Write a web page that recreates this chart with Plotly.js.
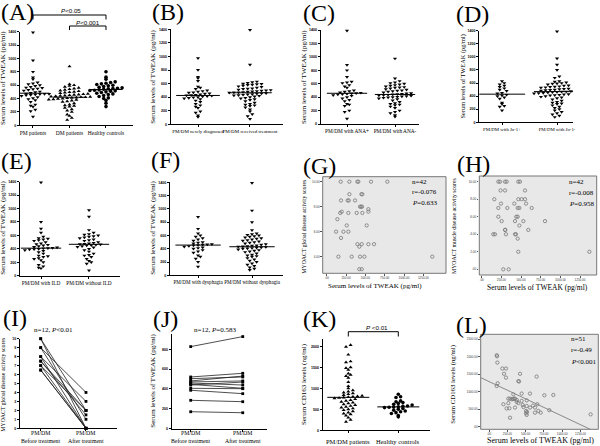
<!DOCTYPE html>
<html>
<head>
<meta charset="utf-8">
<script src="https://cdn.plot.ly/plotly-3.0.1.min.js"></script>
<style>body{margin:0;background:white}</style>
</head>
<body>
<div id="fig" style="width:600px;height:446px"></div>
<script>
// ---- data ----
// (A) TWEAK, pg/ml
var pmTweak = [1390, 970, 800, 715, 690, 640, 625, 615, 600, 590, 575, 565, 560, 550, 540, 530, 520, 505, 495, 485, 475, 470, 468, 465, 460, 455, 450, 440, 430, 420, 405, 390, 375, 350, 310, 295, 280, 235, 210, 130];
var dmTweak = [880, 615, 600, 590, 575, 560, 550, 540, 530, 520, 510, 500, 495, 490, 480, 470, 465, 460, 455, 450, 445, 440, 435, 430, 425, 420, 420, 415, 410, 405, 400, 395, 390, 385, 380, 370, 360, 350, 330, 310, 300, 290, 280, 260, 240, 220, 200, 160, 140, 110, 80];
var hcTweak = [800, 720, 690, 650, 640, 630, 620, 610, 600, 590, 580, 570, 560, 555, 550, 545, 540, 530, 525, 520, 515, 510, 500, 490, 480, 470, 460, 445, 430, 410, 400, 370, 330, 280];
// (B)
var newDiag = [975, 800, 700, 680, 640, 555, 540, 520, 500, 490, 480, 470, 465, 455, 450, 440, 435, 430, 425, 420, 415, 410, 400, 395, 390, 380, 370, 350, 330, 300, 280, 260, 240, 190, 170, 130, 110];
var treated = [1390, 880, 630, 620, 610, 600, 595, 590, 585, 580, 570, 560, 550, 540, 530, 525, 520, 510, 505, 500, 495, 490, 485, 480, 475, 470, 470, 465, 460, 455, 450, 445, 440, 435, 430, 425, 420, 410, 400, 390, 380, 370, 360, 340, 320, 300, 290, 280, 270, 250, 220, 190, 150, 120, 80];
// (C)
var anaPos = [1390, 880, 800, 700, 630, 620, 610, 580, 560, 540, 500, 490, 480, 470, 465, 460, 455, 450, 445, 440, 430, 420, 400, 380, 360, 340, 300, 290, 270, 200, 180, 80];
var anaNeg = [975, 680, 640, 620, 610, 600, 590, 580, 570, 560, 550, 545, 540, 530, 520, 510, 500, 495, 490, 480, 470, 460, 455, 450, 445, 440, 435, 430, 425, 420, 415, 410, 405, 400, 395, 390, 380, 370, 350, 330, 310, 300, 290, 280, 260, 240, 200, 180, 160, 130, 110];
// (D)
var joPos = [630, 600, 580, 560, 540, 520, 500, 480, 450, 440, 420, 410, 400, 380, 360, 300, 280, 250, 240, 180];
var joNeg = [1390, 975, 880, 800, 700, 680, 630, 620, 610, 600, 595, 590, 580, 570, 565, 560, 550, 545, 540, 535, 530, 520, 515, 510, 505, 500, 495, 490, 485, 480, 478, 475, 470, 468, 465, 460, 455, 450, 445, 440, 435, 430, 425, 420, 415, 410, 400, 390, 380, 370, 350, 330, 310, 300, 290, 280, 260, 240, 220, 200, 180, 160, 140, 120, 100, 80];
// (E)
var ildPos = [1390, 800, 700, 640, 580, 560, 550, 540, 530, 520, 500, 480, 470, 460, 450, 440, 430, 420, 415, 410, 405, 400, 395, 390, 380, 370, 350, 330, 300, 290, 280, 260, 250, 230, 200, 160, 140, 120, 110];
var ildNeg = [975, 880, 680, 640, 620, 610, 600, 590, 580, 570, 560, 540, 530, 520, 500, 490, 480, 475, 470, 465, 460, 455, 450, 440, 430, 420, 400, 380, 360, 330, 310, 300, 280, 250, 220, 200, 180, 80];
// (F)
var dysPos = [880, 700, 630, 600, 580, 560, 540, 520, 500, 490, 480, 470, 465, 460, 455, 450, 440, 430, 420, 410, 400, 380, 360, 340, 300, 280, 250, 200, 130];
var dysNeg = [1390, 975, 800, 680, 630, 620, 610, 600, 590, 580, 570, 560, 550, 540, 530, 520, 510, 500, 490, 480, 470, 460, 450, 445, 440, 435, 430, 425, 420, 415, 410, 405, 400, 390, 380, 370, 360, 350, 330, 310, 300, 290, 280, 260, 240, 220, 200, 180, 160, 140, 120, 100, 80];
// (G) TWEAK vs MYOACT global score
var gTweak = [181, 293, 397, 409, 573, 784, 293, 449, 460, 185, 271, 285, 366, 431, 444, 457, 539, 194, 539, 280, 388, 461, 175, 138, 259, 517, 121, 216, 280, 185, 397, 453, 539, 612, 422, 151, 323, 431, 487, 1366, 422, 453];
var gScore = [10, 10, 10, 10, 10, 10, 9, 9, 9, 8.5, 8.5, 8.5, 8.5, 8, 8, 8, 7.8, 7.6, 7.6, 7.5, 7.5, 7.5, 7.5, 7, 6.5, 6.5, 6, 6, 6, 5.5, 5, 5, 5, 5, 4.8, 4, 4, 4, 4, 4, 3, 3];
// (H) TWEAK vs MYOACT muscle score
var hTweak = [212, 233, 297, 318, 466, 487, 297, 551, 240, 161, 466, 508, 551, 246, 415, 564, 212, 326, 458, 479, 636, 212, 458, 440, 254, 424, 530, 805, 479, 297, 593, 300, 148, 169, 309, 424, 436, 458, 466, 1369, 275, 343];
var hScore = [10, 10, 10, 10, 10, 10, 9, 9, 9, 8, 8, 8, 8, 7.5, 7.5, 7.5, 7, 7, 7, 7, 7, 6, 6, 6, 5.5, 5.5, 5.5, 5.5, 5, 4.5, 4.5, 4.5, 4, 4, 4, 4, 4, 3.5, 2, 2, 0, 0];
// (I) MYOACT global score, paired
var iBefore = [10, 10, 9, 9, 8, 8, 7.5, 7.5, 7, 7, 6.5, 6.5];
var iAfter = [2, 0, 4, 1, 3, 0, 2, 1.5, 0, 2, 0, 0];
// (J) TWEAK, paired
var jBefore = [827, 521, 504, 481, 471, 460, 447, 440, 407, 387, 286, 171];
var jAfter = [928, 558, 521, 530, 481, 440, 407, 470, 403, 353, 272, 161];
// (K) CD163, ng/ml
var cdPat = [2030, 1990, 1800, 1640, 1620, 1500, 1480, 1440, 1350, 1320, 1290, 1250, 1150, 1050, 1000, 950, 920, 900, 880, 860, 840, 820, 810, 800, 790, 780, 770, 760, 740, 720, 700, 680, 660, 640, 620, 600, 580, 560, 540, 520, 500, 480, 450, 420, 400, 380, 350, 300, 250, 200];
var cdHc = [860, 800, 780, 700, 680, 660, 640, 620, 600, 580, 570, 560, 555, 550, 540, 520, 500, 480, 460, 440, 420, 400, 350, 320];
// (L) TWEAK vs CD163
var lTweak = [105, 110, 114, 182, 232, 205, 232, 424, 651, 401, 410, 118, 105, 332, 446, 560, 879, 756, 287, 310, 342, 355, 264, 196, 264, 401, 378, 446, 460, 515, 355, 278, 515, 560, 628, 660, 674, 706, 824, 628, 506, 506, 515, 287, 1389, 325, 240, 470, 600, 380, 520];
var lCd163 = [2040, 2010, 1830, 1660, 1660, 1510, 1400, 1510, 1430, 1300, 1290, 1240, 1160, 925, 945, 945, 905, 895, 800, 780, 800, 800, 800, 640, 670, 670, 705, 735, 620, 750, 545, 525, 590, 545, 545, 640, 450, 400, 470, 400, 450, 380, 335, 255, 350, 790, 520, 560, 600, 760, 420];

var tweakTicks = [0, 200, 400, 600, 800, 1000, 1200, 1400];
var tweakTitle = 'Serum levels of TWEAK (pg/ml)';

// ---- helpers ----
var W = 600, H = 446;
var traces = [];
var layout = {
  width: W, height: H, margin: {l: 0, r: 0, t: 0, b: 0},
  showlegend: false, paper_bgcolor: 'white', plot_bgcolor: 'rgba(0,0,0,0)',
  font: {family: 'Liberation Serif', color: 'black'},
  annotations: [], shapes: []
};

function sfx(n) { return n === 1 ? '' : String(n); }

function setAxes(n, g, xopt, yopt) {
  var base = {showline: true, linecolor: 'black', linewidth: 1, ticks: 'outside', ticklen: 2,
    tickwidth: 1, tickcolor: 'black', showgrid: false, zeroline: false, fixedrange: true, tickangle: 0};
  layout['xaxis' + sfx(n)] = Object.assign({}, base, {domain: [g.x0 / W, g.x1 / W], anchor: 'y' + sfx(n), range: g.xr}, xopt);
  layout['yaxis' + sfx(n)] = Object.assign({}, base, {domain: [1 - g.yb / H, 1 - g.yt / H], anchor: 'x' + sfx(n), range: g.yr}, yopt);
}

function note(text, px, py, opt) {
  var a = Object.assign({xref: 'paper', yref: 'paper', x: px / W, y: 1 - py / H, text: text,
    showarrow: false, xanchor: 'center', yanchor: 'middle', borderpad: 0}, opt || {});
  a.font = Object.assign({family: 'Liberation Serif', size: 7, color: 'black'}, (opt && opt.font) || {});
  layout.annotations.push(a);
}

function median(a) {
  var s = a.slice().sort(function (p, q) { return p - q; });
  var m = Math.floor(s.length / 2);
  return s.length % 2 ? s[m] : (s[m - 1] + s[m]) / 2;
}

// spread points of one column sideways (rows of similar value)
function swarm(vals, center, bin, step) {
  var s = vals.slice().sort(function (p, q) { return p - q; });
  var rows = {}, xs = [], ys = [];
  s.forEach(function (v) { var k = Math.round(v / bin); (rows[k] = rows[k] || []).push(v); });
  Object.keys(rows).forEach(function (k) {
    var r = rows[k];
    r.forEach(function (v, j) { xs.push(center + (j - (r.length - 1) / 2) * step); ys.push(v); });
  });
  return {x: xs, y: ys};
}

var numFont = {family: 'Liberation Sans', size: 3.6, weight: 'bold', color: 'black'};

function dotPanel(n, g, groups, names, yticks) {
  setAxes(n, g, {tickvals: names.map(function (_, i) { return i; }), ticktext: names,
      tickfont: {family: 'Liberation Serif', size: g.cs || 5.5, color: 'black'}},
    {tickvals: yticks, tickfont: numFont});
  var catPx = (g.x1 - g.x0) / (g.xr[1] - g.xr[0]);
  var valPx = (g.yb - g.yt) / (g.yr[1] - g.yr[0]);
  groups.forEach(function (grp, i) {
    var s = swarm(grp.vals, i, 3 / valPx, 4.6 / catPx);
    traces.push({type: 'scatter', mode: 'markers', x: s.x, y: s.y, xaxis: 'x' + sfx(n), yaxis: 'y' + sfx(n),
      cliponaxis: false, hoverinfo: 'skip', marker: {symbol: grp.sym, size: 3.6, color: 'black'}});
    var m = median(grp.vals), hw = g.mw || 0.42;
    traces.push({type: 'scatter', mode: 'lines', x: [i - hw, i + hw], y: [m, m], xaxis: 'x' + sfx(n), yaxis: 'y' + sfx(n),
      hoverinfo: 'skip', line: {color: 'black', width: 1}});
  });
}

function catNotes(n, names, py, size) {
  names.forEach(function (lines, i) {
    lines.forEach(function (t, k) {
      layout.annotations.push({xref: 'x' + sfx(n), yref: 'paper', x: i, y: 1 - py[k] / H, text: t, showarrow: false,
        xanchor: 'center', yanchor: 'middle', borderpad: 0, font: {family: 'Liberation Serif', size: size, color: 'black'}});
    });
  });
  layout['xaxis' + sfx(n)].showticklabels = false;
}

function spssPanel(n, g, xs, ys, xticks, xtext, yticks, ytext) {
  var sf = {family: 'Liberation Sans', size: 3, color: '#333'};
  setAxes(n, g, {tickvals: xticks, ticktext: xtext, tickfont: sf, showline: false, tickcolor: '#555', ticklen: 1.5},
    {tickvals: yticks, ticktext: ytext, tickfont: sf, showline: false, tickcolor: '#555', ticklen: 1.5});
  layout.shapes.push({type: 'rect', xref: 'x' + sfx(n) + ' domain', yref: 'y' + sfx(n) + ' domain',
    x0: 0, x1: 1, y0: 0, y1: 1, layer: 'below', fillcolor: '#e8e8e8', line: {color: '#777', width: 1}});
  traces.push({type: 'scatter', mode: 'markers', x: xs, y: ys, xaxis: 'x' + sfx(n), yaxis: 'y' + sfx(n),
    hoverinfo: 'skip', marker: {symbol: 'circle-open', size: 3.3, color: '#777', line: {width: 0.8}}});
}

function pairPanel(n, g, before, after, yticks) {
  setAxes(n, g, {tickvals: [0, 1]}, {tickvals: yticks, tickfont: numFont});
  before.forEach(function (b, i) {
    traces.push({type: 'scatter', mode: 'lines+markers', x: [0, 1], y: [b, after[i]], xaxis: 'x' + sfx(n), yaxis: 'y' + sfx(n),
      cliponaxis: false, hoverinfo: 'skip', line: {color: '#222', width: 0.8}, marker: {symbol: 'square', size: 2.8, color: 'black'}});
  });
  catNotes(n, [['PM/DM', 'Before treatment'], ['PM/DM', 'After treatment']], [432.7, 441.3], 5.8);
}

var spssX = [0, 250, 500, 750, 1000, 1250];
var spssXt = ['.00', '250.00', '500.00', '750.00', '1000.00', '1250.00'];

// ---- panels ----
dotPanel(1, {x0: 20, x1: 133, yt: 31.7, yb: 125.3, xr: [-0.356, 2.74], yr: [0, 1400], mw: 0.45},
  [{vals: pmTweak, sym: 'triangle-down'}, {vals: dmTweak, sym: 'triangle-up'}, {vals: hcTweak, sym: 'circle'}],
  ['PM patients', 'DM patients', 'Healthy controls'], tweakTicks);
dotPanel(2, {x0: 170.7, x1: 283, yt: 29.3, yb: 124.3, xr: [-0.525, 1.635], yr: [0, 1400], cs: 5},
  [{vals: newDiag, sym: 'triangle-down'}, {vals: treated, sym: 'triangle-down'}],
  ['PM/DM newly diagnosed', 'PM/DM received treatment'], tweakTicks);
dotPanel(3, {x0: 320.7, x1: 419, yt: 30, yb: 124, xr: [-0.548, 1.5], yr: [0, 1400], cs: 5.3},
  [{vals: anaPos, sym: 'triangle-down'}, {vals: anaNeg, sym: 'triangle-down'}],
  ['PM/DM with ANA+', 'PM/DM with ANA-'], tweakTicks);
dotPanel(4, {x0: 479.3, x1: 573, yt: 30.7, yb: 122.3, xr: [-0.413, 1.29], yr: [0, 1400], cs: 4.8},
  [{vals: joPos, sym: 'triangle-down'}, {vals: joNeg, sym: 'triangle-down'}],
  ['PM/DM with Jo-1+', 'PM/DM with Jo-1-'], tweakTicks);
dotPanel(5, {x0: 20, x1: 120, yt: 181.7, yb: 275.7, xr: [-0.4375, 1.646], yr: [0, 1400], cs: 5.3},
  [{vals: ildPos, sym: 'triangle-down'}, {vals: ildNeg, sym: 'triangle-down'}],
  ['PM/DM with ILD', 'PM/DM without ILD'], tweakTicks);
dotPanel(6, {x0: 170, x1: 283, yt: 182.3, yb: 275.3, xr: [-0.52, 1.574], yr: [0, 1400], cs: 5.1},
  [{vals: dysPos, sym: 'triangle-down'}, {vals: dysNeg, sym: 'triangle-down'}],
  ['PM/DM with dysphagia', 'PM/DM without dysphagia'], tweakTicks);

spssPanel(7, {x0: 322.7, x1: 446, yt: 176.7, yb: 273.3, xr: [-52, 1543], yr: [2.67, 10.4]},
  gTweak, gScore, spssX, spssXt, [4, 6, 8, 10], ['4.00', '6.00', '8.00', '10.00']);
spssPanel(8, {x0: 479.3, x1: 596.7, yt: 176, yb: 275, xr: [-30, 1462], yr: [-0.65, 10.65]},
  hTweak, hScore, spssX, spssXt, [0, 2, 4, 6, 8, 10], ['.00', '2.00', '4.00', '6.00', '8.00', '10.00']);

pairPanel(9, {x0: 20, x1: 116.7, yt: 338.7, yb: 428.3, xr: [-0.457, 1.678], yr: [0, 10]},
  iBefore, iAfter, [0, 1, 2, 3, 4, 5, 6, 7, 8, 9, 10]);
pairPanel(10, {x0: 171.7, x1: 266.7, yt: 334.3, yb: 428.7, xr: [-0.365, 1.46], yr: [0, 951]},
  jBefore, jAfter, [0, 200, 400, 600, 800]);

dotPanel(11, {x0: 322.7, x1: 430, yt: 339.3, yb: 430.3, xr: [-0.512, 1.634], yr: [0, 2167]},
  [{vals: cdPat, sym: 'triangle-up'}, {vals: cdHc, sym: 'circle'}],
  ['PM/DM patients', 'Healthy controls'], [0, 500, 1000, 1500, 2000]);
catNotes(11, [['PM/DM patients'], ['Healthy controls']], [441], 6.5);

spssPanel(12, {x0: 480.7, x1: 598.3, yt: 334.3, yb: 429.3, xr: [-114, 1494], yr: [-76, 2638]},
  lTweak, lCd163, spssX, spssXt, [0, 500, 1000, 1500, 2000, 2500], ['.00', '500.00', '1000.00', '1500.00', '2000.00', '2500.00']);

// least-squares line for (L)
(function () {
  var n = lTweak.length, mx = 0, my = 0, sxy = 0, sxx = 0;
  lTweak.forEach(function (v, i) { mx += v / n; my += lCd163[i] / n; });
  lTweak.forEach(function (v, i) { sxy += (v - mx) * (lCd163[i] - my); sxx += (v - mx) * (v - mx); });
  var b = sxy / sxx, a = my - b * mx, xr = layout.xaxis12.range;
  traces.push({type: 'scatter', mode: 'lines', x: xr, y: [a + b * xr[0], a + b * xr[1]], xaxis: 'x12', yaxis: 'y12',
    hoverinfo: 'skip', line: {color: '#888', width: 1}});
})();

// ---- brackets ----
function bracket(xa, c0, c1, pyTop, pyBot) {
  layout.shapes.push({type: 'path', xref: xa, yref: 'paper', line: {color: 'black', width: 1},
    path: 'M ' + c0 + ',' + (1 - pyBot / H) + ' L ' + c0 + ',' + (1 - pyTop / H) + ' L ' + c1 + ',' + (1 - pyTop / H) + ' L ' + c1 + ',' + (1 - pyBot / H)});
}
bracket('x', 0, 2, 15, 19.5);
bracket('x', 1, 2, 26, 30);
bracket('x11', 0, 1, 331.7, 336.5);
var pf = {family: 'Liberation Sans', size: 6.2, color: 'black'};
note('<i>P</i><0.05', 71, 11, {font: pf});
note('<i>P</i><0.001', 88, 22.5, {font: pf});
note('<i>P</i> <0.01', 377, 327.5, {font: pf});

// ---- titles and texts ----
note(tweakTitle, 3, 78, {textangle: -90});
note(tweakTitle, 152.7, 77, {textangle: -90});
note(tweakTitle, 304, 77, {textangle: -90});
note(tweakTitle, 462.7, 76.7, {textangle: -90, font: {size: 6.3}});
note(tweakTitle, 2.7, 228, {textangle: -90});
note(tweakTitle, 152.7, 228, {textangle: -90});
note('MYOACT global disease activity scores', 304, 226.7, {textangle: -90, font: {size: 5.8}});
note('MYOACT muscle disease activity scores', 454, 226, {textangle: -90, font: {size: 5.8}});
note(tweakTitle, 375, 285.5, {font: {size: 7}});
note(tweakTitle, 537, 287.5, {font: {size: 7.5}});
note('MYOACT global disease activity scores', 2.7, 384, {textangle: -90, font: {size: 5.8}});
note(tweakTitle, 152.7, 381, {textangle: -90});
note('Serum CD163 levels (ng/ml)', 304, 384, {textangle: -90});
note('Serum CD163 levels (ng/ml)', 452.7, 384, {textangle: -90, font: {size: 6.8}});
note(tweakTitle, 540, 440.5, {font: {size: 8}});

var st = {xanchor: 'left', font: {size: 7, color: 'black'}};
note('n=42', 411, 181.7, st); note('r=-0.076', 411, 192.3, st); note('<i>P</i>=0.633', 411, 202.7, st);
note('n=42', 568, 182.3, st); note('r=-0.008', 568, 193.3, st); note('<i>P</i>=0.958', 568, 204, st);
note('n=51', 570, 339.3, st); note('r=-0.49', 570, 350.3, st); note('<i>P</i><0.001', 570, 361.7, st);
note('n=12, <i>P</i><0.01', 53, 330, {font: {size: 7}});
note('n=12, <i>P</i>=0.583', 215, 330.3, {font: {size: 7}});

// panel letters (centre of glyphs)
var big = {xanchor: 'left', font: {size: 24, family: 'Liberation Serif', color: 'black'}};
[['(A)', 0, 12], ['(B)', 151, 12], ['(C)', 301.7, 13], ['(D)', 455, 14.3], ['(E)', 0, 161], ['(F)', 150, 160],
 ['(G)', 301.7, 166], ['(H)', 456, 164.3], ['(I)', 1.7, 318], ['(J)', 151.7, 318.5], ['(K)', 301.7, 318.5], ['(L)', 455, 324.5]]
  .forEach(function (p) { note(p[0], p[1], p[2], big); });

Plotly.newPlot('fig', traces, layout, {staticPlot: true, displayModeBar: false});
</script>
</body>
</html>
